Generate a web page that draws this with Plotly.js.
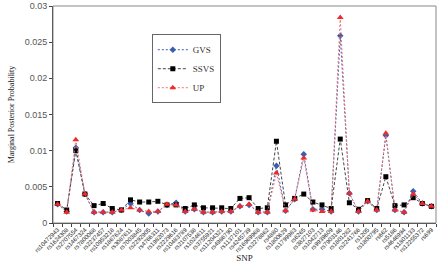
<!DOCTYPE html>
<html><head><meta charset="utf-8">
<script src="https://cdn.plot.ly/plotly-3.0.1.min.js"></script>
<style>body{margin:0;background:#fff}#c{width:441px;height:280px}</style>
</head><body><div id="c"></div>
<script>
var snps = ["rs10472943","rs1624308","rs2707554","rs1467324","rs7800068","rs2237457","rs10953218","rs1867624","rs3087611","rs7003845","rs2292905","rs4766311","rs1982073","rs2229616","rs10483789","rs2107538","rs1024611","rs3755921","rs11204321","rs4986790","rs1137101","rs4245739","rs16969968","rs2278862","rs4880","rs1800629","rs1799983","rs6265","rs3827103","rs1042713","rs9939609","rs7903146","rs1801282","rs2241766","rs1205","rs1800795","rs662","rs5186","rs4646994","rs1801133","rs12255372","rs699"];
var gvs  = [0.0026,0.0016,0.0104,0.0040,0.0015,0.0015,0.0015,0.0018,0.0027,0.0018,0.0013,0.0016,0.0025,0.0028,0.0016,0.0019,0.0015,0.0015,0.0016,0.0016,0.0023,0.0025,0.0015,0.0015,0.0079,0.0017,0.0033,0.0095,0.0019,0.0019,0.0016,0.0259,0.0041,0.0016,0.0030,0.0018,0.0121,0.0018,0.0015,0.0044,0.0027,0.0023];
var ssvs = [0.0027,0.0018,0.0100,0.0040,0.0024,0.0027,0.0020,0.0018,0.0032,0.0029,0.0029,0.0030,0.0025,0.0025,0.0020,0.0025,0.0021,0.0021,0.0021,0.0020,0.0034,0.0035,0.0020,0.0021,0.0113,0.0025,0.0034,0.0040,0.0029,0.0025,0.0020,0.0116,0.0028,0.0019,0.0031,0.0020,0.0064,0.0024,0.0025,0.0035,0.0027,0.0023];
var up   = [0.0026,0.0015,0.0115,0.0040,0.0015,0.0015,0.0015,0.0018,0.0021,0.0018,0.0016,0.0016,0.0026,0.0025,0.0016,0.0019,0.0015,0.0015,0.0016,0.0016,0.0023,0.0026,0.0015,0.0015,0.0069,0.0017,0.0033,0.0090,0.0018,0.0016,0.0016,0.0284,0.0041,0.0016,0.0030,0.0018,0.0124,0.0018,0.0015,0.0040,0.0027,0.0023];
var yTicks = [0,0.005,0.01,0.015,0.02,0.025,0.03];
var yTickText = ["0","0.005","0.01","0.015","0.02","0.025","0.03"];

var tickFont = {family:"Liberation Sans, Arial",size:9,color:"#555"};
var traces = [
 {x:snps,y:gvs,name:"GVS",mode:"lines+markers",line:{color:"#3a5fb0",width:1,dash:"2px,2px"},marker:{symbol:"diamond",size:5,color:"#3a5fb0"}},
 {x:snps,y:ssvs,name:"SSVS",mode:"lines+markers",line:{color:"#444444",width:1,dash:"3px,2px"},marker:{symbol:"square",size:5,color:"#000000"}},
 {x:snps,y:up,name:"UP",mode:"lines+markers",line:{color:"#f07070",width:1,dash:"2px,2px"},marker:{symbol:"triangle-up",size:6,color:"#ee2a2a"}},
 {x:[-1.05],y:[yTicks[0]],text:[yTickText[0]],mode:"text",textposition:"middle left",textfont:tickFont,cliponaxis:false,showlegend:false,hoverinfo:"skip"}
];
var layout = {
 width:441,height:280,margin:{l:53,r:5,t:6,b:57},
 paper_bgcolor:"#fff",plot_bgcolor:"#fff",
 showlegend:true,
 legend:{x:0.258,y:0.87,xanchor:"left",yanchor:"top",bgcolor:"#fff",bordercolor:"#666",borderwidth:1,
   font:{family:"Liberation Serif, Times New Roman, serif",size:9,color:"#333"},tracegroupgap:0,itemwidth:30},
 xaxis:{type:"category",categoryarray:snps,categoryorder:"array",range:[-0.5,41.5],tickangle:-45,tickfont:{family:"Liberation Sans, Arial",size:6,color:"#222"},
   ticks:"outside",ticklen:3,tickson:"boundaries",tickcolor:"#444",showline:true,linecolor:"#333",showgrid:false,
   title:{text:"SNP",font:{family:"Liberation Serif, Times New Roman, serif",size:9,color:"#222"},standoff:2}},
 yaxis:{range:[0,0.03],tickmode:"array",tickvals:yTicks,ticktext:yTickText,ticks:"outside",ticklen:3,tickcolor:"#444",
   showline:true,linecolor:"#333",showgrid:false,zeroline:false,ticklabeloverflow:"allow",
   tickfont:tickFont,
   title:{text:"Marginal Posterior Probability",font:{family:"Liberation Serif, Times New Roman, serif",size:8,color:"#222"},standoff:8}},
 shapes:[{type:"rect",xref:"paper",yref:"paper",x0:0,x1:1,y0:0,y1:1,line:{color:"#888",width:1}}]
};
Plotly.newPlot("c",traces,layout,{displayModeBar:false,staticPlot:true});
</script></body></html>
